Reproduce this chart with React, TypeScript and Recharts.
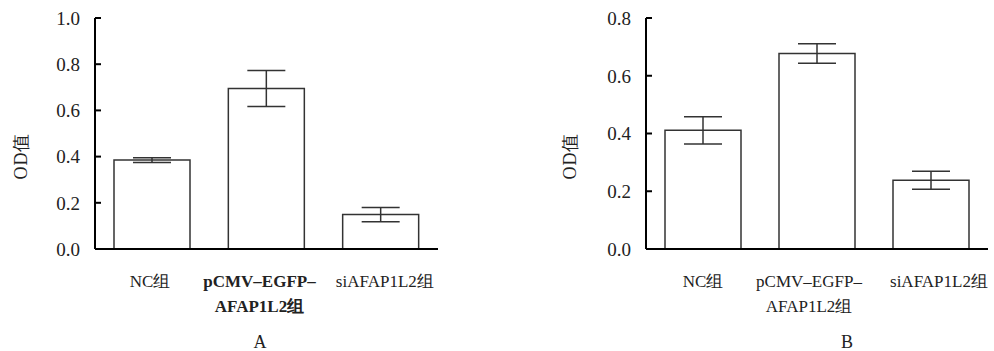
import { Bar, BarChart, ErrorBar, XAxis, YAxis } from "recharts";

const groups = ["NC组", "pCMV–EGFP–AFAP1L2组", "siAFAP1L2组"];
const labelLines = [["NC组"], ["pCMV–EGFP–", "AFAP1L2组"], ["siAFAP1L2组"]];

const odA = [0.385, 0.695, 0.149];
const errA = [0.01, 0.078, 0.031];
const ticksA = [0, 0.2, 0.4, 0.6, 0.8, 1.0];

const odB = [0.411, 0.677, 0.238];
const errB = [0.047, 0.034, 0.031];
const ticksB = [0, 0.2, 0.4, 0.6, 0.8];

const FONT = '"Liberation Serif", "Times New Roman", "DejaVu Serif", serif';
const INK = "#222";

const toRows = (vals: number[], errs: number[]) =>
  groups.map((g, i) => ({ group: g, od: vals[i], err: errs[i] }));

const YTick = (props: any) => {
  const { x, y, payload } = props;
  return (
    <g>
      <line x1={x} x2={x + 6} y1={y} y2={y} stroke="#000" strokeWidth={2} />
      <text x={x - 15} y={y} dy="0.36em" textAnchor="end" fill={INK} style={{ fontFamily: FONT, fontSize: 19 }}>
        {Number(payload.value).toFixed(1)}
      </text>
    </g>
  );
};

const makeXTick = (boldMiddle: boolean, shifts: number[]) => (props: any) => {
  const { x, y, index } = props;
  const lines = labelLines[index] || [props.payload.value];
  return (
    <text
      x={x + shifts[index]}
      y={y}
      textAnchor="middle"
      fill={INK}
      style={{ fontFamily: FONT, fontSize: 17, fontWeight: boldMiddle && index === 1 ? "bold" : "normal" }}
    >
      {lines.map((ln: string, i: number) => (
        <tspan key={i} x={x + shifts[index]} dy={i === 0 ? 38 : 25}>
          {ln}
        </tspan>
      ))}
    </text>
  );
};

const yLabel = (cx: number) => () => (
  <text
    transform={`translate(${cx}, 156) rotate(-90)`}
    textAnchor="middle"
    dy="0.35em"
    fill={INK}
    style={{ fontFamily: FONT, fontSize: 18, letterSpacing: 1 }}
  >
    OD值
  </text>
);

const panelLabel = (cx: number, text: string) => () => (
  <text x={cx} y={348} textAnchor="middle" fill={INK} style={{ fontFamily: FONT, fontSize: 18 }}>
    {text}
  </text>
);

interface PanelProps {
  vals: number[];
  errs: number[];
  ticks: number[];
  yWidth: number;
  rightMargin: number;
  top: number;
  labelX: number;
  panelX: number;
  panel: string;
  bold: boolean;
  shifts: number[];
}

function Panel(p: PanelProps) {
  const max = p.ticks[p.ticks.length - 1];
  return (
    <BarChart
      width={497}
      height={351}
      data={toRows(p.vals, p.errs)}
      margin={{ top: p.top, right: p.rightMargin, left: 0, bottom: 0 }}
      barSize={76}
    >
      <XAxis
        dataKey="group"
        height={102}
        axisLine={{ stroke: "#000", strokeWidth: 2 }}
        tickLine={false}
        tickSize={0}
        tickMargin={0}
        interval={0}
        tick={makeXTick(p.bold, p.shifts)}
        label={{ content: panelLabel(p.panelX, p.panel) }}
      />
      <YAxis
        width={p.yWidth}
        domain={[0, max]}
        ticks={p.ticks}
        axisLine={{ stroke: "#000", strokeWidth: 2 }}
        tickLine={false}
        tickSize={0}
        tickMargin={0}
        tick={<YTick />}
        label={{ content: yLabel(p.labelX) }}
      />
      <Bar dataKey="od" fill="#fff" stroke="#333" strokeWidth={1.5} isAnimationActive={false}>
        <ErrorBar dataKey="err" width={19} stroke="#333" strokeWidth={1.5} isAnimationActive={false} />
      </Bar>
    </BarChart>
  );
}

export default function App() {
  return (
    <div style={{ position: "absolute", left: 0, top: 0, width: 994, height: 351, background: "#fff" }}>
      <div style={{ position: "absolute", left: 0, top: 0 }}>
        <Panel
          vals={odA}
          errs={errA}
          ticks={ticksA}
          yWidth={95}
          rightMargin={59}
          top={18}
          labelX={21}
          panelX={260}
          panel="A"
          bold={true}
          shifts={[-2, -7, 4]}
        />
      </div>
      <div style={{ position: "absolute", left: 497, top: 0 }}>
        <Panel
          vals={odB}
          errs={errB}
          ticks={ticksB}
          yWidth={149}
          rightMargin={6}
          top={18}
          labelX={73}
          panelX={350}
          panel="B"
          bold={false}
          shifts={[0, -8, 8]}
        />
      </div>
    </div>
  );
}
